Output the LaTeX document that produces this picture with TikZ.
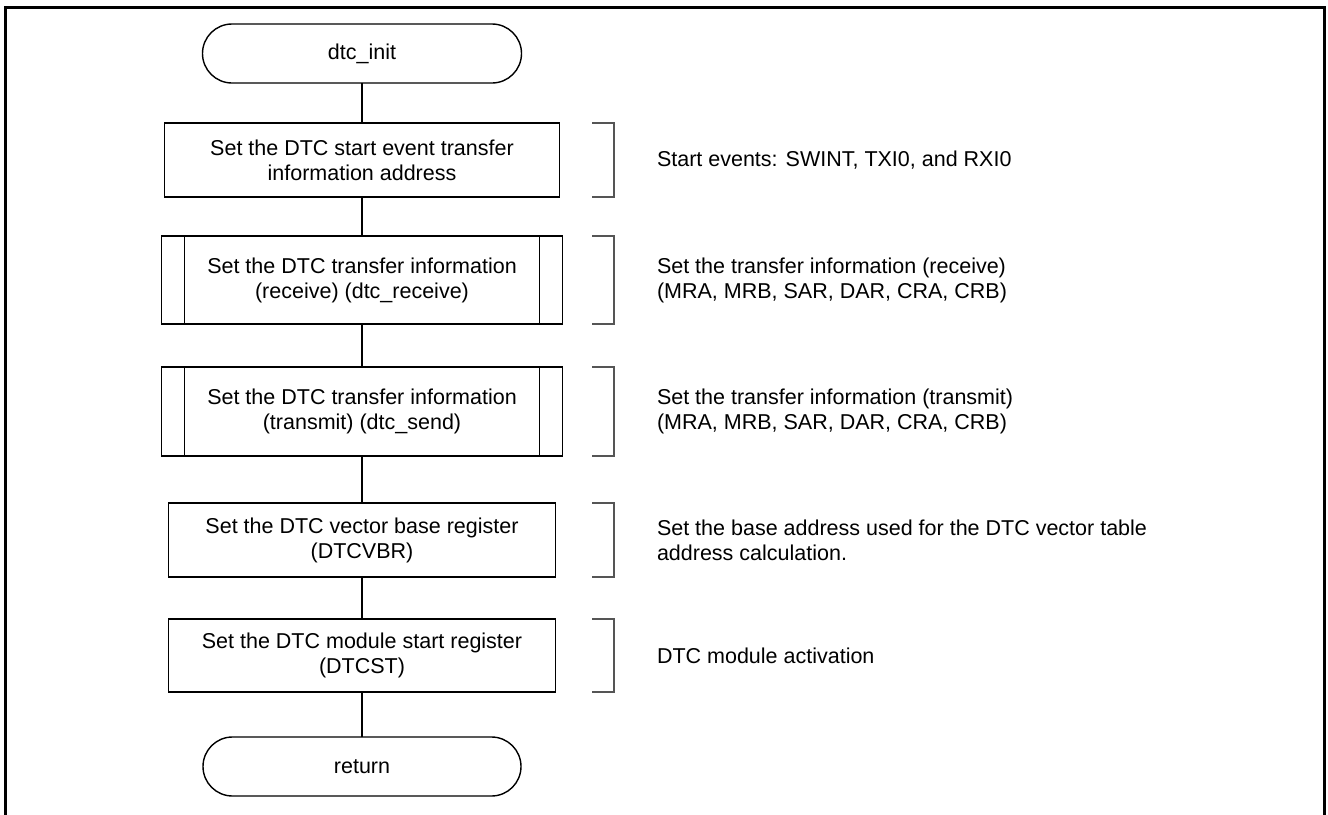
\documentclass[tikz,border=0pt]{standalone}
\usepackage{fontspec}
\setmainfont{Liberation Sans}
\begin{document}
\begin{tikzpicture}[x=1pt,y=-1pt,
  font=\fontsize{21.5}{25}\selectfont,
  every node/.style={inner sep=0pt, outer sep=0pt},
  shape line/.style={draw=black, line width=1.4pt},
  term/.style={shape line, rectangle, rounded corners=29.5pt, minimum height=59pt, align=center},
  proc/.style={shape line, rectangle, align=center},
  subproc/.style={proc, path picture={
      \draw[line width=1.4pt]
        ([xshift=23pt]path picture bounding box.north west) -- ([xshift=23pt]path picture bounding box.south west)
        ([xshift=-23pt]path picture bounding box.north east) -- ([xshift=-23pt]path picture bounding box.south east);}},
  flow/.style={draw=black, line width=1.4pt},
  brk/.style={draw={rgb,255:red,85;green,85;blue,85}, line width=1.2pt},
  note/.style={anchor=west, align=left, text=black}
]
\useasboundingbox (0,0) rectangle (1328,814);
\fill[white] (0,0) rectangle (1328,814);

% outer frame (open at the bottom edge)
\draw[line width=2.4pt] (5.5,830) -- (5.5,7.5) -- (1324.5,7.5) -- (1324.5,830);

% flow chart column
\node[term, minimum width=319pt] (init) at (362,53.5) {dtc\_init};
\node[proc, minimum width=395pt, minimum height=74pt] (s1) at (362,160)
  {Set the DTC start event transfer\\information address};
\node[subproc, minimum width=401pt, minimum height=88pt] (s2) at (362,280)
  {Set the DTC transfer information\\(receive) (dtc\_receive)};
\node[subproc, minimum width=401pt, minimum height=89pt] (s3) at (362,411.5)
  {Set the DTC transfer information\\(transmit) (dtc\_send)};
\node[proc, minimum width=386.5pt, minimum height=74pt] (s4) at (362,540)
  {Set the DTC vector base register\\(DTCVBR)};
\node[proc, minimum width=386.5pt, minimum height=73pt] (s5) at (362,655.5)
  {Set the DTC module start register\\(DTCST)};
\node[term, minimum width=318pt] (ret) at (362,766.5) {return};

\draw[flow] (init) -- (s1);
\draw[flow] (s1) -- (s2);
\draw[flow] (s2) -- (s3);
\draw[flow] (s3) -- (s4);
\draw[flow] (s4) -- (s5);
\draw[flow] (s5) -- (ret);

% comment brackets and notes
\coordinate (bl) at (592,0);
\coordinate (br) at (614,0);
\coordinate (tx) at (657,0);
\foreach \s in {s1,s2,s3,s4,s5}{
  \draw[brk] (\s.north -| bl) -- (\s.north -| br) -- (\s.south -| br) -- (\s.south -| bl);
}
\node[note] (n1) at (s1.east -| tx) {Start events: SWINT, TXI0, and RXI0};
\node[note] (n2) at (s2.east -| tx) {Set the transfer information (receive)\\(MRA, MRB, SAR, DAR, CRA, CRB)};
\node[note] (n3) at (s3.east -| tx) {Set the transfer information (transmit)\\(MRA, MRB, SAR, DAR, CRA, CRB)};
\node[note] (n4) at (s4.east -| tx) {Set the base address used for the DTC vector table\\address calculation.};
\node[note] (n5) at (s5.east -| tx) {DTC module activation};
\end{tikzpicture}
\end{document}
